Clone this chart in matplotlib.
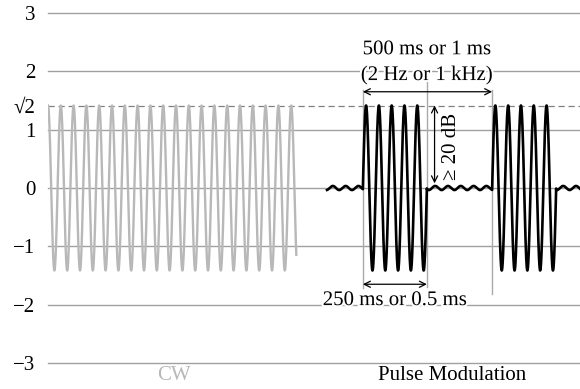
import numpy as np
import matplotlib
matplotlib.use("Agg")
import matplotlib.pyplot as plt
import matplotlib.patheffects as pe

plt.rcParams["font.family"] = ["Liberation Serif", "DejaVu Serif"]
plt.rcParams["font.size"] = 15

# ── Data (time in carrier periods) ────────────────────────────────────────────
amp = np.sqrt(2)
cw_span = [0.0, 19.4]
pm_span = [21.8, 41.6]
burst_starts = [24.6, 34.7]
burst_len = 5.0
leak_amp = 0.035
y_ticks = [-3, -2, -1, 0, 1, np.sqrt(2), 2, 3]
y_labels = ["\u22123", "\u22122", "\u22121", "0", "1", "\u221a2", "2", "3"]
x_ticks = [9.8, 31.6]
x_labels = ["CW", "Pulse Modulation"]

# ── Signals ───────────────────────────────────────────────────────────────────
t_cw = np.linspace(cw_span[0], cw_span[1], 4000)
cw = amp * np.cos(2 * np.pi * t_cw)

t_pm = np.linspace(pm_span[0], pm_span[1], 6000)
pm = leak_amp * np.sin(2 * np.pi * t_pm)
for b in burst_starts:
    on = (t_pm >= b) & (t_pm <= b + burst_len)
    pm[on] = amp * np.sin(2 * np.pi * (t_pm[on] - b))

# ── Figure ────────────────────────────────────────────────────────────────────
fig = plt.figure(figsize=(5.8, 3.89), dpi=100)
ax = fig.add_axes([48 / 580, 26 / 389, 532 / 580, 350 / 389])
ax.set_xlim(0, 532 / 12.8)
ax.set_ylim(-3, 3)

for y in [-3, -2, -1, 0, 1, 2, 3]:
    ax.axhline(y, color="#a0a0a0", lw=1.0, zorder=0, clip_on=False)
ax.axhline(amp, color="#808080", lw=0.9, ls=(0, (5, 3)), zorder=0)

ax.plot(t_cw, cw, color="#b8b8b8", lw=1.7)
ax.plot(t_pm, pm, color="black", lw=1.9)

# guide lines
b1, b2 = burst_starts
ax.plot([b1, b1], [-1.72, 1.68], color="#aaaaaa", lw=1.0, zorder=1)
ax.plot([b1 + burst_len, b1 + burst_len], [-1.70, 1.85], color="#aaaaaa", lw=1.0, zorder=1)
ax.plot([b2, b2], [-1.82, 1.68], color="#aaaaaa", lw=1.0, zorder=1)

arrow = dict(arrowstyle="<->", color="black", lw=0.9, shrinkA=0, shrinkB=0,
             mutation_scale=11)
ax.annotate("", xy=(b1, 1.65), xytext=(b2, 1.65), arrowprops=arrow)
ax.annotate("", xy=(b1, -1.65), xytext=(b1 + burst_len, -1.65), arrowprops=arrow)
ax.annotate("", xy=(30.2, amp), xytext=(30.2, 0.08), arrowprops=arrow)

halo = [pe.withStroke(linewidth=3, foreground="white")]
ax.text(29.6, 2.37, "500 ms or 1 ms", ha="center", va="center", path_effects=halo)
ax.text(29.6, 1.93, "(2 Hz or 1 kHz)", ha="center", va="center", path_effects=halo)
ax.text(27.1, -1.93, "250 ms or 0.5 ms", ha="center", va="center", path_effects=halo)
ax.text(31.5, 0.72, "\u2265 20 dB", rotation=90, ha="center", va="center")

ax.set_yticks(y_ticks)
ax.set_yticklabels(y_labels)
ax.set_xticks(x_ticks)
ax.set_xticklabels(x_labels)
ax.get_xticklabels()[0].set_color("#b8b8b8")
ax.tick_params(length=0)
ax.tick_params(axis="y", pad=9)
ax.tick_params(axis="x", pad=2)
for s in ax.spines.values():
    s.set_visible(False)

plt.savefig("out.png", dpi=100)
